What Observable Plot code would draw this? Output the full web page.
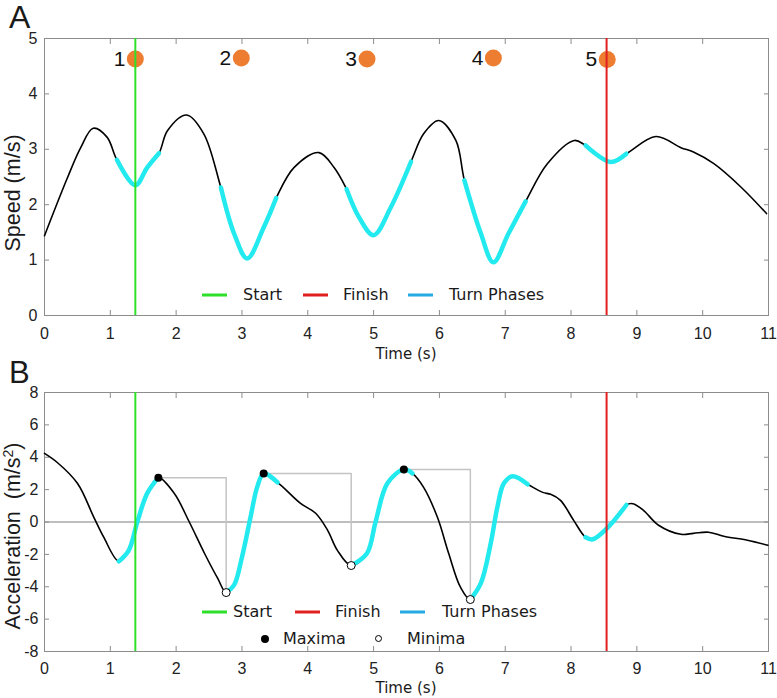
<!DOCTYPE html>
<html><head><meta charset="utf-8">
<script src="https://cdn.jsdelivr.net/npm/d3@7"></script>
<script src="https://cdn.jsdelivr.net/npm/@observablehq/plot@0.6"></script>
<style>
body{margin:0;background:#fff;}
#wrap{position:relative;width:777px;height:698px;overflow:hidden;background:#fff;font-family:"Liberation Sans",Arial,sans-serif;color:#1a1a1a;}
.abs{position:absolute;white-space:nowrap;line-height:1;}
.panel{position:absolute;left:0;}
.leg{font-family:"DejaVu Sans",Verdana,sans-serif;font-size:16px;}
.lline{position:absolute;height:3px;width:25px;transform:translateY(-50%);}
</style></head>
<body><div id="wrap"></div>
<script>
// ---------- data ----------
const timeTicks = [0,1,2,3,4,5,6,7,8,9,10,11];
const speedTicks = [0,1,2,3,4,5];
const accTicks = [-8,-6,-4,-2,0,2,4,6,8];

const startTime = 1.38;
const finishTime = 8.54;

const speedTime  = [0, 0.35, 0.55, 0.74, 0.95, 1.1, 1.38, 1.56, 1.74, 1.87, 2.16, 2.42, 2.68, 2.88, 3.08, 3.33, 3.52, 3.79, 4.17, 4.4, 4.59, 4.78, 5.0, 5.26, 5.57, 5.76, 5.99, 6.25, 6.38, 6.63, 6.82, 7.05, 7.31, 7.64, 8.05, 8.22, 8.6, 8.84, 9.29, 9.67, 9.86, 10.17, 10.58, 10.97];
const speedValue = [1.44, 2.49, 3.03, 3.38, 3.22, 2.81, 2.35, 2.67, 2.93, 3.34, 3.62, 3.28, 2.31, 1.48, 1.03, 1.59, 2.12, 2.67, 2.94, 2.67, 2.28, 1.77, 1.45, 1.95, 2.78, 3.28, 3.52, 3.16, 2.44, 1.48, 0.96, 1.48, 2.06, 2.74, 3.16, 3.07, 2.77, 2.92, 3.23, 3.03, 2.95, 2.74, 2.32, 1.84];

const speedTurnStart = [1.1, 2.68, 4.59, 6.38, 8.22];
const speedTurnEnd   = [1.74, 3.52, 5.57, 7.31, 8.84];

const markerLabel = ["1","2","3","4","5"];
const markerTime  = [1.38, 2.99, 4.90, 6.82, 8.55];
const markerSpeed = [4.63, 4.65, 4.63, 4.65, 4.62];

const accTime  = [0, 0.19, 0.5, 0.75, 0.9, 1.13, 1.28, 1.41, 1.56, 1.73, 1.97, 2.2, 2.43, 2.63, 2.76, 2.88, 3.0, 3.13, 3.23, 3.33, 3.54, 3.89, 4.12, 4.3, 4.45, 4.66, 4.9, 5.03, 5.21, 5.46, 5.59, 5.76, 5.97, 6.14, 6.32, 6.47, 6.63, 6.78, 6.88, 6.98, 7.11, 7.34, 7.57, 7.69, 7.84, 8.04, 8.22, 8.33, 8.56, 8.84, 8.94, 9.1, 9.33, 9.67, 9.86, 10.09, 10.32, 10.68, 10.99];
const accValue = [4.24, 3.69, 2.39, 0.29, -0.94, -2.43, -1.75, 0.0, 1.77, 2.74, 1.77, 0.0, -1.93, -3.47, -4.36, -3.9, -2.18, 0.29, 2.14, 2.99, 2.45, 1.15, 0.54, -0.5, -1.75, -2.69, -1.93, 0.0, 2.39, 3.25, 3.0, 2.14, 0.29, -1.93, -4.03, -4.79, -3.78, -1.31, 0.91, 2.39, 2.82, 2.33, 1.83, 1.71, 1.34, 0.1, -0.94, -1.07, -0.33, 1.05, 1.13, 0.72, -0.2, -0.76, -0.7, -0.63, -0.88, -1.13, -1.44];

const accTurnStart = [1.13, 2.76, 4.66, 6.47, 8.22];
const accTurnEnd   = [1.73, 3.54, 5.59, 7.34, 8.84];

const maxTime = [1.73, 3.33, 5.46];
const maxAcc  = [2.74, 2.99, 3.25];
const minTime = [2.76, 4.66, 6.47];
const minAcc  = [-4.36, -2.69, -4.79];

// ---------- styling ----------
const GREEN = "#2fe02a", RED = "#e0201e", CYAN = "#22eaee", LEGBLUE = "#25aae2", ORANGE = "#ed7d31", FRAME = "#8c8c8c";
const W = 777;

// ---------- helpers ----------
function segIndex(t, starts, ends){ return starts.findIndex((s,i)=> t >= s - 1e-9 && t <= ends[i] + 1e-9); }
const speedData = speedTime.map((t,i)=>({t, v: speedValue[i]}));
const speedTurn = speedData.map(d=>({...d, seg: segIndex(d.t, speedTurnStart, speedTurnEnd)})).filter(d=>d.seg>=0);
const markers = markerLabel.map((l,i)=>({label:l, t: markerTime[i], v: markerSpeed[i]}));

const accData = accTime.map((t,i)=>({t, a: accValue[i]}));
const accTurn = accData.map(d=>({...d, seg: segIndex(d.t, accTurnStart, accTurnEnd)})).filter(d=>d.seg>=0);
const maxima = maxTime.map((t,i)=>({t, a: maxAcc[i]}));
const minima = minTime.map((t,i)=>({t, a: minAcc[i]}));
const connectors = maxTime.flatMap((t,i)=>[
  {k:i, t: t, a: maxAcc[i]},
  {k:i, t: minTime[i], a: maxAcc[i]},
  {k:i, t: minTime[i], a: minAcc[i]}
]);

function frameAxes(yTicks, xPad, yPad){
  const blank = () => "";
  return [
    Plot.axisX(timeTicks, {anchor:"bottom", tickSize:0, tickPadding:xPad, label:null, fontSize:16, fill:"#222"}),
    Plot.axisX(timeTicks, {anchor:"bottom", tickSize:-5, tickFormat:blank, label:null, stroke:FRAME}),
    Plot.axisX(timeTicks, {anchor:"top", tickSize:-5, tickFormat:blank, label:null, stroke:FRAME}),
    Plot.axisY(yTicks, {anchor:"left", tickSize:0, tickPadding:yPad, label:null, fontSize:16, fill:"#222", tickFormat: d => String(d)}),
    Plot.axisY(yTicks, {anchor:"left", tickSize:-5, tickFormat:blank, label:null, stroke:FRAME}),
    Plot.axisY(yTicks, {anchor:"right", tickSize:-5, tickFormat:blank, label:null, stroke:FRAME}),
    Plot.frame({stroke:FRAME, strokeWidth:1})
  ];
}

const style = {fontFamily:"Liberation Sans, Arial, sans-serif", fontSize:"16px", background:"transparent", overflow:"visible"};

const plotA = Plot.plot({
  width: W, height: 365, marginLeft: 44, marginRight: 9, marginTop: 38, marginBottom: 50,
  x: {domain:[0,11]}, y: {domain:[0,5]},
  style,
  marks: [
    ...frameAxes(speedTicks, 12, 7),
    Plot.line(speedData, {x:"t", y:"v", curve:"catmull-rom", stroke:"#000", strokeWidth:1.6}),
    Plot.line(speedTurn, {x:"t", y:"v", z:"seg", curve:"catmull-rom", stroke:CYAN, strokeWidth:4.5}),
    Plot.dot(markers, {x:"t", y:"v", r:8.5, fill:ORANGE, stroke:null}),
    Plot.text(markers, {x:"t", y:"v", text:"label", dx:-10, textAnchor:"end", fontSize:21, fill:"#111"}),
    Plot.ruleX([startTime], {stroke:GREEN, strokeWidth:2}),
    Plot.ruleX([finishTime], {stroke:RED, strokeWidth:2})
  ]
});

const plotB = Plot.plot({
  width: W, height: 333, marginLeft: 44, marginRight: 9, marginTop: 27, marginBottom: 47,
  x: {domain:[0,11]}, y: {domain:[-8,8]},
  style,
  marks: [
    Plot.ruleY([0], {stroke:"#7f7f7f", strokeWidth:1}),
    ...frameAxes(accTicks, 11, 6),
    Plot.line(connectors, {x:"t", y:"a", z:"k", stroke:"#c4c4c4", strokeWidth:1.5}),
    Plot.line(accData, {x:"t", y:"a", curve:"catmull-rom", stroke:"#000", strokeWidth:1.6}),
    Plot.line(accTurn, {x:"t", y:"a", z:"seg", curve:"catmull-rom", stroke:CYAN, strokeWidth:4.5}),
    Plot.dot(maxima, {x:"t", y:"a", r:4, fill:"#000", stroke:null}),
    Plot.dot(minima, {x:"t", y:"a", r:4, fill:"#fff", stroke:"#000", strokeWidth:1}),
    Plot.ruleX([startTime], {stroke:GREEN, strokeWidth:2}),
    Plot.ruleX([finishTime], {stroke:RED, strokeWidth:2})
  ]
});

const wrap = document.getElementById("wrap");
const pa = document.createElement("div"); pa.className = "panel"; pa.style.top = "0px"; pa.appendChild(plotA); wrap.appendChild(pa);
const pb = document.createElement("div"); pb.className = "panel"; pb.style.top = "365px"; pb.appendChild(plotB); wrap.appendChild(pb);

function addText(html, x, y, opts = {}){
  const d = document.createElement("div");
  d.className = "abs" + (opts.cls ? " " + opts.cls : "");
  d.innerHTML = html;
  d.style.left = x + "px"; d.style.top = y + "px";
  if (opts.size) d.style.fontSize = opts.size + "px";
  if (opts.family) d.style.fontFamily = opts.family;
  d.style.transform = opts.transform || "translateY(-50%)";
  wrap.appendChild(d);
  return d;
}
function addLine(x, y, color){
  const d = document.createElement("div");
  d.className = "lline"; d.style.left = x + "px"; d.style.top = y + "px"; d.style.background = color;
  wrap.appendChild(d);
}
function addDot(x, y, filled){
  const d = document.createElement("div");
  d.style.cssText = `position:absolute;left:${x-4}px;top:${y-4}px;width:${filled?8:7}px;height:${filled?8:7}px;border-radius:50%;box-sizing:border-box;` + (filled ? "background:#000;" : "background:#fff;border:1px solid #000;");
  wrap.appendChild(d);
}

// panel letters
addText("A", 9, 1, {size:32, transform:"none"});
addText("B", 9, 357, {size:31, transform:"none"});
// axis titles
addText("Speed (m/s)", 14, 193, {size:21.5, transform:"translate(-50%,-50%) rotate(-90deg)"});
addText("Acceleration&nbsp; (m/s<sup style='font-size:0.65em;vertical-align:0.55em;line-height:0'>2</sup>)", 14, 536, {size:21.5, transform:"translate(-50%,-50%) rotate(-90deg)"});
addText("Time (s)", 406, 354, {size:15, family:"DejaVu Sans, Verdana, sans-serif", transform:"translate(-50%,-50%)"});
addText("Time (s)", 406, 688, {size:15, family:"DejaVu Sans, Verdana, sans-serif", transform:"translate(-50%,-50%)"});

// legend A
const legY1 = 295;
addLine(202, legY1, GREEN); addText("Start", 243, legY1, {cls:"leg"});
addLine(303, legY1, RED);   addText("Finish", 343, legY1, {cls:"leg"});
addLine(408, legY1, LEGBLUE); addText("Turn Phases", 449, legY1, {cls:"leg"});

// legend B
const legY2 = 612, legY3 = 639;
addLine(202, legY2, GREEN); addText("Start", 233, legY2, {cls:"leg"});
addLine(295, legY2, RED);   addText("Finish", 335, legY2, {cls:"leg"});
addLine(400, legY2, LEGBLUE); addText("Turn Phases", 442, legY2, {cls:"leg"});
addDot(265, legY3, true);  addText("Maxima", 283, legY3, {cls:"leg"});
addDot(379, legY3, false); addText("Minima", 407, legY3, {cls:"leg"});
</script>
</body></html>
